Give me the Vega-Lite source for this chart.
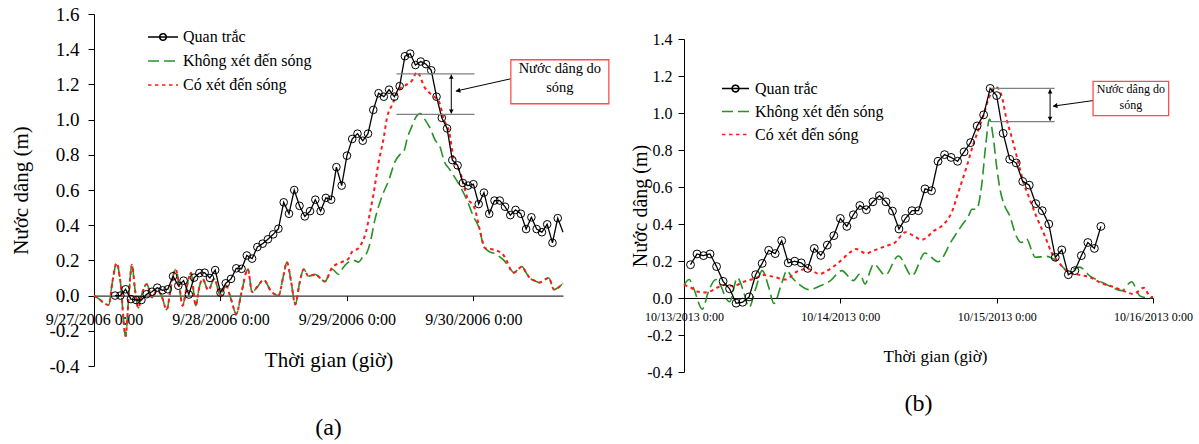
{
"$schema":"https://vega.github.io/schema/vega-lite/v6.json",
"background":"white",
"padding":{"left":10,"top":5,"right":5,"bottom":5},
"bounds":"flush",
"spacing":121,
"resolve":{"scale":{"color":"independent","strokeDash":"independent","x":"independent","y":"independent"},"legend":{"color":"independent","strokeDash":"independent"}},
"config":{
 "font":"Liberation Serif",
 "view":{"stroke":null},
 "axis":{"grid":false,"domainColor":"#000","tickColor":"#000","labelColor":"#000","titleColor":"#000","titleFontWeight":"normal","domainWidth":1,"tickWidth":1,"labelFont":"Liberation Serif","titleFont":"Liberation Serif","labelOverlap":false},
 "axisY":{"labelOverlap":false},
 "axisQuantitative":{"labelOverlap":false},
 "legend":{"labelColor":"#000","labelFont":"Liberation Serif"},
 "text":{"font":"Liberation Serif"}
},
"datasets":{
"aObs":[{"t":"2006-09-27T04:00Z","v":0},{"t":"2006-09-27T05:00Z","v":0},{"t":"2006-09-27T06:00Z","v":0.036},{"t":"2006-09-27T07:00Z","v":-0.02},{"t":"2006-09-27T08:00Z","v":-0.025},{"t":"2006-09-27T09:00Z","v":-0.025},{"t":"2006-09-27T10:00Z","v":0.008},{"t":"2006-09-27T11:00Z","v":0.022},{"t":"2006-09-27T12:00Z","v":0.045},{"t":"2006-09-27T13:00Z","v":0.03},{"t":"2006-09-27T14:00Z","v":0.036},{"t":"2006-09-27T15:00Z","v":0.11},{"t":"2006-09-27T16:00Z","v":0.056},{"t":"2006-09-27T17:00Z","v":0.085},{"t":"2006-09-27T18:00Z","v":0.006},{"t":"2006-09-27T19:00Z","v":0.102},{"t":"2006-09-27T20:00Z","v":0.128},{"t":"2006-09-27T21:00Z","v":0.13},{"t":"2006-09-27T22:00Z","v":0.1},{"t":"2006-09-27T23:00Z","v":0.145},
{"t":"2006-09-28T00:00Z","v":0.017},{"t":"2006-09-28T01:00Z","v":0.07},{"t":"2006-09-28T02:00Z","v":0.095},{"t":"2006-09-28T03:00Z","v":0.155},{"t":"2006-09-28T04:00Z","v":0.152},{"t":"2006-09-28T05:00Z","v":0.228},{"t":"2006-09-28T06:00Z","v":0.21},{"t":"2006-09-28T07:00Z","v":0.276},{"t":"2006-09-28T08:00Z","v":0.295},{"t":"2006-09-28T09:00Z","v":0.32},{"t":"2006-09-28T10:00Z","v":0.348},{"t":"2006-09-28T11:00Z","v":0.38},{"t":"2006-09-28T12:00Z","v":0.53},{"t":"2006-09-28T13:00Z","v":0.465},{"t":"2006-09-28T14:00Z","v":0.6},{"t":"2006-09-28T15:00Z","v":0.51},{"t":"2006-09-28T16:00Z","v":0.45},{"t":"2006-09-28T17:00Z","v":0.48},{"t":"2006-09-28T18:00Z","v":0.545},{"t":"2006-09-28T19:00Z","v":0.48},{"t":"2006-09-28T20:00Z","v":0.555},{"t":"2006-09-28T21:00Z","v":0.545},{"t":"2006-09-28T22:00Z","v":0.73},{"t":"2006-09-28T23:00Z","v":0.625},
{"t":"2006-09-29T00:00Z","v":0.795},{"t":"2006-09-29T01:00Z","v":0.89},{"t":"2006-09-29T02:00Z","v":0.92},{"t":"2006-09-29T03:00Z","v":0.88},{"t":"2006-09-29T04:00Z","v":0.92},{"t":"2006-09-29T05:00Z","v":1.055},{"t":"2006-09-29T06:00Z","v":1.15},{"t":"2006-09-29T07:00Z","v":1.13},{"t":"2006-09-29T08:00Z","v":1.17},{"t":"2006-09-29T09:00Z","v":1.13},{"t":"2006-09-29T10:00Z","v":1.19},{"t":"2006-09-29T11:00Z","v":1.36},{"t":"2006-09-29T12:00Z","v":1.375},{"t":"2006-09-29T13:00Z","v":1.31},{"t":"2006-09-29T14:00Z","v":1.33},{"t":"2006-09-29T15:00Z","v":1.315},{"t":"2006-09-29T16:00Z","v":1.28},{"t":"2006-09-29T17:00Z","v":1.13},{"t":"2006-09-29T18:00Z","v":1.01},{"t":"2006-09-29T19:00Z","v":0.95},{"t":"2006-09-29T20:00Z","v":0.77},{"t":"2006-09-29T21:00Z","v":0.74},{"t":"2006-09-29T22:00Z","v":0.64},{"t":"2006-09-29T23:00Z","v":0.625},
{"t":"2006-09-30T00:00Z","v":0.633},{"t":"2006-09-30T01:00Z","v":0.52},{"t":"2006-09-30T02:00Z","v":0.585},{"t":"2006-09-30T03:00Z","v":0.465},{"t":"2006-09-30T04:00Z","v":0.54},{"t":"2006-09-30T05:00Z","v":0.54},{"t":"2006-09-30T06:00Z","v":0.505},{"t":"2006-09-30T07:00Z","v":0.457},{"t":"2006-09-30T08:00Z","v":0.487},{"t":"2006-09-30T09:00Z","v":0.465},{"t":"2006-09-30T10:00Z","v":0.378},{"t":"2006-09-30T11:00Z","v":0.445},{"t":"2006-09-30T12:00Z","v":0.378},{"t":"2006-09-30T13:00Z","v":0.36},{"t":"2006-09-30T14:00Z","v":0.405},{"t":"2006-09-30T15:00Z","v":0.3},{"t":"2006-09-30T16:00Z","v":0.44},{"t":"2006-09-30T17:00Z","v":0.36}],
"aNo":[{"t":"2006-09-27T00:00Z","v":0},{"t":"2006-09-27T01:00Z","v":-0.02},{"t":"2006-09-27T02:00Z","v":-0.045},{"t":"2006-09-27T02:48Z","v":-0.053},{"t":"2006-09-27T03:30Z","v":0.08},{"t":"2006-09-27T04:18Z","v":0.185},{"t":"2006-09-27T05:00Z","v":0.08},{"t":"2006-09-27T06:00Z","v":-0.23},{"t":"2006-09-27T06:36Z","v":0},{"t":"2006-09-27T07:12Z","v":0.175},{"t":"2006-09-27T07:48Z","v":0.03},{"t":"2006-09-27T08:24Z","v":-0.07},{"t":"2006-09-27T09:12Z","v":0.02},{"t":"2006-09-27T10:00Z","v":0.065},{"t":"2006-09-27T11:00Z","v":-0.01},{"t":"2006-09-27T12:00Z","v":0.03},{"t":"2006-09-27T12:48Z","v":0},{"t":"2006-09-27T13:48Z","v":-0.08},{"t":"2006-09-27T14:36Z","v":0.05},{"t":"2006-09-27T15:30Z","v":0.15},{"t":"2006-09-27T16:12Z","v":0.05},{"t":"2006-09-27T16:48Z","v":-0.057},{"t":"2006-09-27T17:36Z","v":0.05},{"t":"2006-09-27T18:24Z","v":0.13},{"t":"2006-09-27T19:18Z","v":-0.057},{"t":"2006-09-27T20:00Z","v":0.05},{"t":"2006-09-27T20:36Z","v":0.095},{"t":"2006-09-27T21:42Z","v":0.03},{"t":"2006-09-27T22:48Z","v":0.095},{"t":"2006-09-28T00:00Z","v":0},{"t":"2006-09-28T01:00Z","v":0.06},{"t":"2006-09-28T02:00Z","v":-0.02},{"t":"2006-09-28T03:00Z","v":-0.104},{"t":"2006-09-28T04:00Z","v":0.02},{"t":"2006-09-28T05:12Z","v":0.15},{"t":"2006-09-28T06:00Z","v":0.02},{"t":"2006-09-28T07:00Z","v":0.05},{"t":"2006-09-28T08:12Z","v":0.09},{"t":"2006-09-28T09:30Z","v":0.03},{"t":"2006-09-28T11:00Z","v":0},{"t":"2006-09-28T12:00Z","v":0.12},{"t":"2006-09-28T12:36Z","v":0.19},{"t":"2006-09-28T13:24Z","v":0.08},{"t":"2006-09-28T14:12Z","v":-0.05},{"t":"2006-09-28T15:00Z","v":0.07},{"t":"2006-09-28T15:48Z","v":0.15},{"t":"2006-09-28T16:42Z","v":0.11},{"t":"2006-09-28T18:00Z","v":0.12},{"t":"2006-09-28T18:54Z","v":0.1},{"t":"2006-09-28T19:48Z","v":0.08},
{"t":"2006-09-28T21:12Z","v":0.15},{"t":"2006-09-28T22:24Z","v":0.12},{"t":"2006-09-28T23:18Z","v":0.16},{"t":"2006-09-29T00:18Z","v":0.19},{"t":"2006-09-29T01:18Z","v":0.2},{"t":"2006-09-29T02:12Z","v":0.19},{"t":"2006-09-29T03:00Z","v":0.22},{"t":"2006-09-29T03:48Z","v":0.245},{"t":"2006-09-29T04:24Z","v":0.3},{"t":"2006-09-29T05:18Z","v":0.43},{"t":"2006-09-29T06:36Z","v":0.56},{"t":"2006-09-29T08:00Z","v":0.66},{"t":"2006-09-29T09:06Z","v":0.76},{"t":"2006-09-29T10:00Z","v":0.8},{"t":"2006-09-29T10:48Z","v":0.82},{"t":"2006-09-29T11:30Z","v":0.9},{"t":"2006-09-29T12:18Z","v":0.96},{"t":"2006-09-29T13:00Z","v":1.01},{"t":"2006-09-29T13:54Z","v":1.034},{"t":"2006-09-29T14:48Z","v":1.0},{"t":"2006-09-29T15:48Z","v":0.95},{"t":"2006-09-29T16:48Z","v":0.88},{"t":"2006-09-29T17:36Z","v":0.85},{"t":"2006-09-29T18:30Z","v":0.76},{"t":"2006-09-29T19:24Z","v":0.72},{"t":"2006-09-29T20:30Z","v":0.67},{"t":"2006-09-29T21:30Z","v":0.62},{"t":"2006-09-29T22:48Z","v":0.54},{"t":"2006-09-30T00:00Z","v":0.45},{"t":"2006-09-30T01:00Z","v":0.39},{"t":"2006-09-30T02:00Z","v":0.28},{"t":"2006-09-30T03:00Z","v":0.25},{"t":"2006-09-30T03:54Z","v":0.24},{"t":"2006-09-30T05:00Z","v":0.22},{"t":"2006-09-30T05:48Z","v":0.2},{"t":"2006-09-30T06:48Z","v":0.16},{"t":"2006-09-30T07:42Z","v":0.13},{"t":"2006-09-30T08:30Z","v":0.15},{"t":"2006-09-30T09:12Z","v":0.165},{"t":"2006-09-30T10:00Z","v":0.13},{"t":"2006-09-30T10:42Z","v":0.1},{"t":"2006-09-30T11:36Z","v":0.085},{"t":"2006-09-30T12:36Z","v":0.074},{"t":"2006-09-30T13:30Z","v":0.09},{"t":"2006-09-30T14:18Z","v":0.1},{"t":"2006-09-30T15:18Z","v":0.034},{"t":"2006-09-30T16:18Z","v":0.05},{"t":"2006-09-30T17:00Z","v":0.07}],
"aYes":[{"t":"2006-09-27T00:00Z","v":0},{"t":"2006-09-27T01:00Z","v":-0.02},{"t":"2006-09-27T02:00Z","v":-0.045},{"t":"2006-09-27T02:48Z","v":-0.053},{"t":"2006-09-27T03:30Z","v":0.08},{"t":"2006-09-27T04:18Z","v":0.185},{"t":"2006-09-27T05:00Z","v":0.08},{"t":"2006-09-27T06:00Z","v":-0.23},{"t":"2006-09-27T06:36Z","v":0},{"t":"2006-09-27T07:12Z","v":0.175},{"t":"2006-09-27T07:48Z","v":0.03},{"t":"2006-09-27T08:24Z","v":-0.07},{"t":"2006-09-27T09:12Z","v":0.02},{"t":"2006-09-27T10:00Z","v":0.065},{"t":"2006-09-27T11:00Z","v":-0.01},{"t":"2006-09-27T12:00Z","v":0.03},{"t":"2006-09-27T12:48Z","v":0},{"t":"2006-09-27T13:48Z","v":-0.08},{"t":"2006-09-27T14:36Z","v":0.05},{"t":"2006-09-27T15:30Z","v":0.15},{"t":"2006-09-27T16:12Z","v":0.05},{"t":"2006-09-27T16:48Z","v":-0.057},{"t":"2006-09-27T17:36Z","v":0.05},{"t":"2006-09-27T18:24Z","v":0.13},{"t":"2006-09-27T19:18Z","v":-0.057},{"t":"2006-09-27T20:00Z","v":0.05},{"t":"2006-09-27T20:36Z","v":0.095},{"t":"2006-09-27T21:42Z","v":0.03},{"t":"2006-09-27T22:48Z","v":0.095},{"t":"2006-09-28T00:00Z","v":0},{"t":"2006-09-28T01:00Z","v":0.06},{"t":"2006-09-28T02:00Z","v":-0.02},{"t":"2006-09-28T03:00Z","v":-0.104},{"t":"2006-09-28T04:00Z","v":0.02},{"t":"2006-09-28T05:12Z","v":0.15},{"t":"2006-09-28T06:00Z","v":0.02},{"t":"2006-09-28T07:00Z","v":0.05},{"t":"2006-09-28T08:12Z","v":0.09},{"t":"2006-09-28T09:30Z","v":0.03},{"t":"2006-09-28T11:00Z","v":0},{"t":"2006-09-28T12:00Z","v":0.12},{"t":"2006-09-28T12:36Z","v":0.19},{"t":"2006-09-28T13:24Z","v":0.08},{"t":"2006-09-28T14:12Z","v":-0.05},{"t":"2006-09-28T15:00Z","v":0.07},{"t":"2006-09-28T15:48Z","v":0.15},{"t":"2006-09-28T16:42Z","v":0.11},{"t":"2006-09-28T18:00Z","v":0.12},{"t":"2006-09-28T18:54Z","v":0.1},{"t":"2006-09-28T19:48Z","v":0.08},
{"t":"2006-09-28T21:12Z","v":0.16},{"t":"2006-09-28T23:00Z","v":0.19},{"t":"2006-09-29T00:18Z","v":0.21},{"t":"2006-09-29T01:00Z","v":0.25},{"t":"2006-09-29T02:12Z","v":0.27},{"t":"2006-09-29T03:00Z","v":0.31},{"t":"2006-09-29T03:36Z","v":0.36},{"t":"2006-09-29T04:18Z","v":0.46},{"t":"2006-09-29T05:00Z","v":0.57},{"t":"2006-09-29T06:00Z","v":0.755},{"t":"2006-09-29T07:00Z","v":0.9},{"t":"2006-09-29T07:36Z","v":1.01},{"t":"2006-09-29T08:36Z","v":1.085},{"t":"2006-09-29T09:54Z","v":1.17},{"t":"2006-09-29T11:24Z","v":1.2},{"t":"2006-09-29T12:18Z","v":1.22},{"t":"2006-09-29T13:18Z","v":1.27},{"t":"2006-09-29T14:48Z","v":1.18},{"t":"2006-09-29T16:06Z","v":1.14},{"t":"2006-09-29T17:30Z","v":1.1},{"t":"2006-09-29T18:24Z","v":1.0},{"t":"2006-09-29T19:24Z","v":0.93},{"t":"2006-09-29T20:18Z","v":0.77},{"t":"2006-09-29T21:30Z","v":0.7},{"t":"2006-09-29T22:48Z","v":0.56},{"t":"2006-09-30T00:18Z","v":0.49},{"t":"2006-09-30T01:12Z","v":0.375},{"t":"2006-09-30T02:12Z","v":0.27},{"t":"2006-09-30T03:54Z","v":0.26},{"t":"2006-09-30T05:24Z","v":0.24},{"t":"2006-09-30T06:18Z","v":0.2},{"t":"2006-09-30T07:00Z","v":0.15},{"t":"2006-09-30T07:42Z","v":0.13},{"t":"2006-09-30T08:30Z","v":0.15},{"t":"2006-09-30T09:12Z","v":0.165},{"t":"2006-09-30T10:00Z","v":0.13},{"t":"2006-09-30T10:42Z","v":0.1},{"t":"2006-09-30T11:36Z","v":0.085},{"t":"2006-09-30T12:36Z","v":0.074},{"t":"2006-09-30T13:30Z","v":0.09},{"t":"2006-09-30T14:18Z","v":0.1},{"t":"2006-09-30T15:18Z","v":0.034},{"t":"2006-09-30T16:18Z","v":0.05},{"t":"2006-09-30T17:00Z","v":0.07}],
"bObs":[{"t":"2013-10-13T01:00Z","v":0.18},{"t":"2013-10-13T02:00Z","v":0.238},{"t":"2013-10-13T03:00Z","v":0.229},{"t":"2013-10-13T04:00Z","v":0.238},{"t":"2013-10-13T05:00Z","v":0.17},{"t":"2013-10-13T06:00Z","v":0.09},{"t":"2013-10-13T07:00Z","v":0.05},{"t":"2013-10-13T08:00Z","v":-0.028},{"t":"2013-10-13T09:00Z","v":-0.023},{"t":"2013-10-13T10:00Z","v":0.006},{"t":"2013-10-13T11:00Z","v":0.126},{"t":"2013-10-13T12:00Z","v":0.187},{"t":"2013-10-13T13:00Z","v":0.258},{"t":"2013-10-13T14:00Z","v":0.24},{"t":"2013-10-13T15:00Z","v":0.31},{"t":"2013-10-13T16:00Z","v":0.19},{"t":"2013-10-13T17:00Z","v":0.199},{"t":"2013-10-13T18:00Z","v":0.19},{"t":"2013-10-13T19:00Z","v":0.16},{"t":"2013-10-13T20:00Z","v":0.268},{"t":"2013-10-13T21:00Z","v":0.23},{"t":"2013-10-13T22:00Z","v":0.286},{"t":"2013-10-13T23:00Z","v":0.337},
{"t":"2013-10-14T00:00Z","v":0.43},{"t":"2013-10-14T01:00Z","v":0.387},{"t":"2013-10-14T02:00Z","v":0.45},{"t":"2013-10-14T03:00Z","v":0.5},{"t":"2013-10-14T04:00Z","v":0.477},{"t":"2013-10-14T05:00Z","v":0.52},{"t":"2013-10-14T06:00Z","v":0.553},{"t":"2013-10-14T07:00Z","v":0.52},{"t":"2013-10-14T08:00Z","v":0.47},{"t":"2013-10-14T09:00Z","v":0.373},{"t":"2013-10-14T10:00Z","v":0.43},{"t":"2013-10-14T11:00Z","v":0.472},{"t":"2013-10-14T12:00Z","v":0.472},{"t":"2013-10-14T13:00Z","v":0.59},{"t":"2013-10-14T14:00Z","v":0.58},{"t":"2013-10-14T15:00Z","v":0.739},{"t":"2013-10-14T16:00Z","v":0.775},{"t":"2013-10-14T17:00Z","v":0.76},{"t":"2013-10-14T18:00Z","v":0.739},{"t":"2013-10-14T19:00Z","v":0.79},{"t":"2013-10-14T20:00Z","v":0.84},{"t":"2013-10-14T21:00Z","v":0.93},{"t":"2013-10-14T22:00Z","v":0.99},{"t":"2013-10-14T23:00Z","v":1.133},
{"t":"2013-10-15T00:00Z","v":1.094},{"t":"2013-10-15T01:00Z","v":0.89},{"t":"2013-10-15T02:00Z","v":0.75},{"t":"2013-10-15T03:00Z","v":0.73},{"t":"2013-10-15T04:00Z","v":0.63},{"t":"2013-10-15T05:00Z","v":0.61},{"t":"2013-10-15T06:00Z","v":0.51},{"t":"2013-10-15T07:00Z","v":0.472},{"t":"2013-10-15T08:00Z","v":0.4},{"t":"2013-10-15T09:00Z","v":0.22},{"t":"2013-10-15T10:00Z","v":0.26},{"t":"2013-10-15T11:00Z","v":0.126},{"t":"2013-10-15T12:00Z","v":0.148},{"t":"2013-10-15T13:00Z","v":0.229},{"t":"2013-10-15T14:00Z","v":0.3},{"t":"2013-10-15T15:00Z","v":0.268},{"t":"2013-10-15T16:00Z","v":0.387}],
"bNo":[{"t":"2013-10-13T00:00Z","v":0.07},{"t":"2013-10-13T00:48Z","v":0.1},{"t":"2013-10-13T01:30Z","v":0.05},{"t":"2013-10-13T02:48Z","v":-0.06},{"t":"2013-10-13T03:48Z","v":0.04},{"t":"2013-10-13T04:54Z","v":0.1},{"t":"2013-10-13T05:36Z","v":0.07},{"t":"2013-10-13T06:24Z","v":0},{"t":"2013-10-13T07:00Z","v":-0.02},{"t":"2013-10-13T08:12Z","v":0.11},{"t":"2013-10-13T09:00Z","v":0.05},{"t":"2013-10-13T10:00Z","v":-0.05},{"t":"2013-10-13T11:00Z","v":0.05},{"t":"2013-10-13T12:00Z","v":0.148},{"t":"2013-10-13T13:00Z","v":0.06},{"t":"2013-10-13T13:48Z","v":-0.03},{"t":"2013-10-13T15:00Z","v":0.08},{"t":"2013-10-13T15:48Z","v":0.148},{"t":"2013-10-13T16:36Z","v":0.11},{"t":"2013-10-13T17:36Z","v":0.076},{"t":"2013-10-13T19:12Z","v":0.045},{"t":"2013-10-13T21:00Z","v":0.067},{"t":"2013-10-13T22:30Z","v":0.094},{"t":"2013-10-14T00:12Z","v":0.148},{"t":"2013-10-14T02:00Z","v":0.094},{"t":"2013-10-14T03:00Z","v":0.13},{"t":"2013-10-14T03:48Z","v":0.076},{"t":"2013-10-14T04:36Z","v":0.148},{"t":"2013-10-14T05:06Z","v":0.184},{"t":"2013-10-14T06:54Z","v":0.124},{"t":"2013-10-14T08:54Z","v":0.227},{"t":"2013-10-14T11:00Z","v":0.12},{"t":"2013-10-14T13:00Z","v":0.243},{"t":"2013-10-14T15:00Z","v":0.196},{"t":"2013-10-14T17:06Z","v":0.31},{"t":"2013-10-14T18:36Z","v":0.39},{"t":"2013-10-14T19:42Z","v":0.445},{"t":"2013-10-14T20:12Z","v":0.48},{"t":"2013-10-14T20:54Z","v":0.48},{"t":"2013-10-14T21:42Z","v":0.61},{"t":"2013-10-14T22:18Z","v":0.82},{"t":"2013-10-14T22:54Z","v":0.967},{"t":"2013-10-14T23:30Z","v":0.86},{"t":"2013-10-15T00:00Z","v":0.71},{"t":"2013-10-15T00:30Z","v":0.59},{"t":"2013-10-15T01:12Z","v":0.5},{"t":"2013-10-15T02:00Z","v":0.445},{"t":"2013-10-15T03:00Z","v":0.335},{"t":"2013-10-15T03:48Z","v":0.3},{"t":"2013-10-15T04:36Z","v":0.32},{"t":"2013-10-15T05:24Z","v":0.255},{"t":"2013-10-15T05:54Z","v":0.22},{"t":"2013-10-15T07:42Z","v":0.225},{"t":"2013-10-15T09:12Z","v":0.2},{"t":"2013-10-15T11:00Z","v":0.146},{"t":"2013-10-15T12:42Z","v":0.167},{"t":"2013-10-15T14:18Z","v":0.12},{"t":"2013-10-15T16:06Z","v":0.086},{"t":"2013-10-15T17:36Z","v":0.06},{"t":"2013-10-15T19:12Z","v":0.04},{"t":"2013-10-15T20:42Z","v":0.088},{"t":"2013-10-15T22:00Z","v":0.011},{"t":"2013-10-15T23:30Z","v":0},{"t":"2013-10-16T00:00Z","v":0.007}],
"bYes":[{"t":"2013-10-13T00:00Z","v":0.07},{"t":"2013-10-13T01:00Z","v":0.058},{"t":"2013-10-13T02:00Z","v":0.035},{"t":"2013-10-13T03:18Z","v":0.03},{"t":"2013-10-13T04:18Z","v":0.04},{"t":"2013-10-13T05:12Z","v":0.058},{"t":"2013-10-13T06:12Z","v":0.07},{"t":"2013-10-13T07:36Z","v":0.065},{"t":"2013-10-13T09:00Z","v":0.085},{"t":"2013-10-13T10:54Z","v":0.106},{"t":"2013-10-13T12:18Z","v":0.124},{"t":"2013-10-13T14:00Z","v":0.112},{"t":"2013-10-13T15:36Z","v":0.1},{"t":"2013-10-13T17:18Z","v":0.142},{"t":"2013-10-13T19:00Z","v":0.157},{"t":"2013-10-13T20:48Z","v":0.13},{"t":"2013-10-13T22:00Z","v":0.148},{"t":"2013-10-13T23:48Z","v":0.193},{"t":"2013-10-14T01:30Z","v":0.247},{"t":"2013-10-14T02:24Z","v":0.265},{"t":"2013-10-14T04:00Z","v":0.24},{"t":"2013-10-14T05:00Z","v":0.255},{"t":"2013-10-14T06:54Z","v":0.28},{"t":"2013-10-14T08:24Z","v":0.3},{"t":"2013-10-14T10:00Z","v":0.356},{"t":"2013-10-14T11:12Z","v":0.337},{"t":"2013-10-14T12:30Z","v":0.315},{"t":"2013-10-14T14:24Z","v":0.364},{"t":"2013-10-14T15:54Z","v":0.4},{"t":"2013-10-14T17:06Z","v":0.463},{"t":"2013-10-14T18:06Z","v":0.57},{"t":"2013-10-14T19:24Z","v":0.71},{"t":"2013-10-14T20:24Z","v":0.83},{"t":"2013-10-14T21:12Z","v":0.91},{"t":"2013-10-14T22:00Z","v":0.99},{"t":"2013-10-14T22:54Z","v":1.09},{"t":"2013-10-14T23:54Z","v":1.14},{"t":"2013-10-15T00:42Z","v":1.1},{"t":"2013-10-15T01:30Z","v":0.97},{"t":"2013-10-15T02:18Z","v":0.87},{"t":"2013-10-15T03:18Z","v":0.735},{"t":"2013-10-15T04:06Z","v":0.626},{"t":"2013-10-15T04:54Z","v":0.55},{"t":"2013-10-15T06:06Z","v":0.44},{"t":"2013-10-15T07:24Z","v":0.335},{"t":"2013-10-15T08:24Z","v":0.247},{"t":"2013-10-15T09:30Z","v":0.194},{"t":"2013-10-15T11:00Z","v":0.14},{"t":"2013-10-15T12:42Z","v":0.125},{"t":"2013-10-15T14:18Z","v":0.113},{"t":"2013-10-15T16:06Z","v":0.08},{"t":"2013-10-15T17:54Z","v":0.06},{"t":"2013-10-15T19:30Z","v":0.038},{"t":"2013-10-15T21:00Z","v":0.022},{"t":"2013-10-15T22:36Z","v":0.055},{"t":"2013-10-15T23:30Z","v":0.01},{"t":"2013-10-16T00:00Z","v":0.005}]
},
"hconcat":[
{
"width":469,"height":352,
"title":{"text":"(a)","orient":"bottom","offset":40,"fontSize":24,"fontWeight":"normal","font":"Liberation Serif","color":"#000"},
"encoding":{
  "x":{"field":"t","type":"temporal","scale":{"type":"utc","domain":[{"year":2006,"month":9,"date":27,"utc":true},{"year":2006,"month":9,"date":30,"hours":17,"utc":true}]},
   "axis":{"values":[{"year":2006,"month":9,"date":27,"utc":true},{"year":2006,"month":9,"date":28,"utc":true},{"year":2006,"month":9,"date":29,"utc":true},{"year":2006,"month":9,"date":30,"utc":true}],"format":"%-m/%-d/%Y %-H:%M","offset":-70.4,"tickSize":5,"labelPadding":11,"labelFontSize":16,"labelFont":"Liberation Serif","labelFlush":false,"labelOverlap":false,"labelBound":false,"title":"Thời gian (giờ)","titleFontSize":21,"titlePadding":22}},
  "y":{"field":"v","type":"quantitative","scale":{"domain":[-0.4,1.6],"nice":false,"zero":false},
   "axis":{"values":[-0.4,-0.2,0,0.2,0.4,0.6,0.8,1,1.2,1.4,1.6],"tickCount":11,"labelExpr":"datum.value < 0 ? '-' + format(-datum.value, '.1f') : format(datum.value, '.1f')","labelOverlap":false,"labelSeparation":0,"tickSize":6,"labelPadding":9,"labelFontSize":19,"labelFont":"Liberation Serif","title":"Nước dâng (m)","titleFontSize":21,"titlePadding":17}}
},
"layer":[
{"data":{"name":"aNo"},"mark":{"type":"line","interpolate":"monotone","strokeWidth":1.6},
 "encoding":{
  "color":{"datum":"Không xét đến sóng","scale":{"domain":["Quan trắc","Không xét đến sóng","Có xét đến sóng"],"range":["#000000","#259325","#ff1a1a"]},
   "legend":{"orient":"none","legendX":53,"legendY":7,"title":null,"padding":0,"symbolType":"stroke","symbolSize":900,"symbolStrokeWidth":1.6,"labelFontSize":16,"labelFont":"Liberation Serif","labelOffset":4,"labelLimit":400,"rowPadding":-3,
    "encode":{"symbols":{"update":{"shape":{"signal":"datum.value === 'Quan trắc' ? 'M-1,0H1M0.22,0A0.22,0.22,0,1,1,-0.22,0A0.22,0.22,0,1,1,0.22,0' : 'stroke'"},"strokeDash":{"signal":"datum.value === 'Không xét đến sóng' ? [11,9] : (datum.value === 'Có xét đến sóng' ? [4,5] : [1,0])"}}}}}},
  "strokeDash":{"datum":"Không xét đến sóng","scale":{"domain":["Quan trắc","Không xét đến sóng","Có xét đến sóng"],"range":[[1,0],[11,5],[3.5,3.5]]},"legend":null}
 }},
{"data":{"name":"aYes"},"mark":{"type":"line","interpolate":"monotone","strokeWidth":2},
 "encoding":{"color":{"datum":"Có xét đến sóng"},"strokeDash":{"datum":"Có xét đến sóng","legend":null}}},
{"data":{"name":"aObs"},"mark":{"type":"line","strokeWidth":1.3},
 "encoding":{"color":{"datum":"Quan trắc"},"strokeDash":{"datum":"Quan trắc","legend":null}}},
{"data":{"name":"aObs"},"transform":[{"filter":{"field":"t","lt":{"year":2006,"month":9,"date":30,"hours":16,"minutes":30,"utc":true}}}],
 "mark":{"type":"point","shape":"circle","filled":false,"stroke":"#000","strokeWidth":1,"size":58,"opacity":1}},
{"data":{"values":[{"t":"2006-09-29T09:24Z","t2":"2006-09-30T00:12Z","v":1.26},{"t":"2006-09-29T09:24Z","t2":"2006-09-30T00:12Z","v":1.03}],"format":{"parse":{"t":"date","t2":"date"}}},
 "mark":{"type":"rule","color":"#808080","strokeWidth":1.2},
 "encoding":{"x2":{"field":"t2"}}},
{"data":{"values":[{"t":"2006-09-29T19:48Z","v":1.035,"v2":1.255}],"format":{"parse":{"t":"date"}}},
 "mark":{"type":"rule","color":"#000","strokeWidth":1},
 "encoding":{"y2":{"field":"v2"}}},
{"data":{"values":[{"t":"2006-09-29T19:48Z","v":1.244}],"format":{"parse":{"t":"date"}}},
 "mark":{"type":"point","shape":"triangle-up","filled":true,"color":"#000","size":22,"opacity":1}},
{"data":{"values":[{"t":"2006-09-29T19:48Z","v":1.046}],"format":{"parse":{"t":"date"}}},
 "mark":{"type":"point","shape":"triangle-down","filled":true,"color":"#000","size":22,"opacity":1}},
{"data":{"values":[{"t":"2006-09-30T07:06Z","v":1.232,"t2":"2006-09-29T20:40Z","v2":1.162}],"format":{"parse":{"t":"date","t2":"date"}}},
 "mark":{"type":"rule","color":"#000","strokeWidth":1},
 "encoding":{"x2":{"field":"t2"},"y2":{"field":"v2"}}},
{"data":{"values":[{"t":"2006-09-29T21:04Z","v":1.164}],"format":{"parse":{"t":"date"}}},
 "mark":{"type":"point","shape":"triangle-left","filled":true,"color":"#000","size":28,"opacity":1,"angle":347}},
{"data":{"values":[{"t":"2006-09-30T07:06Z","t2":"2006-10-01T01:42Z","v":1.09,"v2":1.34}],"format":{"parse":{"t":"date","t2":"date"}}},
 "mark":{"type":"rect","fill":"#ffffff","stroke":"#ff4d4d","strokeWidth":1.3},
 "encoding":{"x2":{"field":"t2"},"y2":{"field":"v2"}}},
{"data":{"values":[{"t":"2006-09-30T16:24Z","v":1.285,"s":"Nước dâng do"},{"t":"2006-09-30T16:24Z","v":1.18,"s":"sóng"}],"format":{"parse":{"t":"date"}}},
 "mark":{"type":"text","fontSize":14.5,"align":"center","baseline":"middle","color":"#000","font":"Liberation Serif"},
 "encoding":{"text":{"field":"s"}}}
]
},
{
"width":469,"height":358,
"title":{"text":"(b)","orient":"bottom","offset":12,"fontSize":24,"fontWeight":"normal","font":"Liberation Serif","color":"#000"},
"encoding":{
  "x":{"field":"t","type":"temporal","scale":{"type":"utc","domain":[{"year":2013,"month":10,"date":13,"utc":true},{"year":2013,"month":10,"date":16,"utc":true}]},
   "axis":{"values":[{"year":2013,"month":10,"date":13,"utc":true},{"year":2013,"month":10,"date":14,"utc":true},{"year":2013,"month":10,"date":15,"utc":true},{"year":2013,"month":10,"date":16,"utc":true}],"format":"%-m/%-d/%Y %-H:%M","offset":-74,"tickSize":5,"labelPadding":8,"labelFontSize":12,"labelFont":"Liberation Serif","labelFlush":false,"labelOverlap":false,"labelBound":false,"title":"Thời gian (giờ)","titleFontSize":17,"titlePadding":26,"titleX":251}},
  "y":{"field":"v","type":"quantitative","scale":{"domain":[-0.4,1.4],"range":[358,25],"nice":false,"zero":false},
   "axis":{"values":[-0.4,-0.2,0,0.2,0.4,0.6,0.8,1,1.2,1.4],"tickCount":10,"labelExpr":"datum.value < 0 ? '-' + format(-datum.value, '.1f') : format(datum.value, '.1f')","labelOverlap":false,"labelSeparation":0,"tickSize":6,"labelPadding":6,"labelFontSize":16,"labelFont":"Liberation Serif","title":"Nước dâng (m)","titleFontSize":20,"titlePadding":-4}}
},
"layer":[
{"data":{"name":"bNo"},"mark":{"type":"line","interpolate":"monotone","strokeWidth":1.6},
 "encoding":{
  "color":{"datum":"Không xét đến sóng","scale":{"domain":["Quan trắc","Không xét đến sóng","Có xét đến sóng"],"range":["#000000","#259325","#ff1a1a"]},
   "legend":{"orient":"none","legendX":37,"legendY":60,"title":null,"padding":0,"symbolType":"stroke","symbolSize":729,"symbolStrokeWidth":1.6,"labelFontSize":16,"labelFont":"Liberation Serif","labelOffset":5,"labelLimit":400,"rowPadding":-4,
    "encode":{"symbols":{"update":{"shape":{"signal":"datum.value === 'Quan trắc' ? 'M-1,0H1M0.25,0A0.25,0.25,0,1,1,-0.25,0A0.25,0.25,0,1,1,0.25,0' : 'stroke'"},"strokeDash":{"signal":"datum.value === 'Không xét đến sóng' ? [10,8] : (datum.value === 'Có xét đến sóng' ? [4,5] : [1,0])"}}}}}},
  "strokeDash":{"datum":"Không xét đến sóng","scale":{"domain":["Quan trắc","Không xét đến sóng","Có xét đến sóng"],"range":[[1,0],[11,5],[3.5,3.5]]},"legend":null}
 }},
{"data":{"name":"bYes"},"mark":{"type":"line","interpolate":"monotone","strokeWidth":2},
 "encoding":{"color":{"datum":"Có xét đến sóng"},"strokeDash":{"datum":"Có xét đến sóng","legend":null}}},
{"data":{"name":"bObs"},"mark":{"type":"line","strokeWidth":1.3},
 "encoding":{"color":{"datum":"Quan trắc"},"strokeDash":{"datum":"Quan trắc","legend":null}}},
{"data":{"name":"bObs"},
 "mark":{"type":"point","shape":"circle","filled":false,"stroke":"#000","strokeWidth":1,"size":62,"opacity":1}},
{"data":{"values":[{"t":"2013-10-14T23:06Z","t2":"2013-10-15T08:54Z","v":1.133},{"t":"2013-10-14T23:06Z","t2":"2013-10-15T08:54Z","v":0.953}],"format":{"parse":{"t":"date","t2":"date"}}},
 "mark":{"type":"rule","color":"#808080","strokeWidth":1.2},
 "encoding":{"x2":{"field":"t2"}}},
{"data":{"values":[{"t":"2013-10-15T08:12Z","v":0.958,"v2":1.128}],"format":{"parse":{"t":"date"}}},
 "mark":{"type":"rule","color":"#000","strokeWidth":1},
 "encoding":{"y2":{"field":"v2"}}},
{"data":{"values":[{"t":"2013-10-15T08:12Z","v":1.117}],"format":{"parse":{"t":"date"}}},
 "mark":{"type":"point","shape":"triangle-up","filled":true,"color":"#000","size":22,"opacity":1}},
{"data":{"values":[{"t":"2013-10-15T08:12Z","v":0.969}],"format":{"parse":{"t":"date"}}},
 "mark":{"type":"point","shape":"triangle-down","filled":true,"color":"#000","size":22,"opacity":1}},
{"data":{"values":[{"t":"2013-10-15T14:48Z","v":1.067,"t2":"2013-10-15T08:40Z","v2":1.037}],"format":{"parse":{"t":"date","t2":"date"}}},
 "mark":{"type":"rule","color":"#000","strokeWidth":1},
 "encoding":{"x2":{"field":"t2"},"y2":{"field":"v2"}}},
{"data":{"values":[{"t":"2013-10-15T08:58Z","v":1.038}],"format":{"parse":{"t":"date"}}},
 "mark":{"type":"point","shape":"triangle-left","filled":true,"color":"#000","size":28,"opacity":1,"angle":352}},
{"data":{"values":[{"t":"2013-10-15T14:48Z","t2":"2013-10-16T02:24Z","v":0.986,"v2":1.171}],"format":{"parse":{"t":"date","t2":"date"}}},
 "mark":{"type":"rect","fill":"#ffffff","stroke":"#ff4d4d","strokeWidth":1.3},
 "encoding":{"x2":{"field":"t2"},"y2":{"field":"v2"}}},
{"data":{"values":[{"t":"2013-10-15T20:36Z","v":1.13,"s":"Nước dâng do"},{"t":"2013-10-15T20:36Z","v":1.043,"s":"sóng"}],"format":{"parse":{"t":"date"}}},
 "mark":{"type":"text","fontSize":12,"align":"center","baseline":"middle","color":"#000","font":"Liberation Serif"},
 "encoding":{"text":{"field":"s"}}}
]
}
]
}
